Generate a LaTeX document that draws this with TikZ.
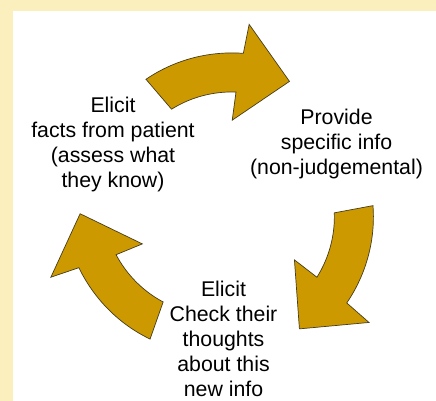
\documentclass[tikz,border=0pt]{standalone}
\usepackage{fontspec}
\setmainfont{Liberation Sans}
\usepackage{tikz}
\definecolor{bandyellow}{RGB}{252,239,190}
\definecolor{arrowgold}{RGB}{204,153,0}
\definecolor{arrowedge}{RGB}{70,60,30}
\tikzset{
  cyclearrow/.style={fill=arrowgold,draw=arrowedge,line width=0.7pt,line join=miter},
  steptext/.style={align=center,inner sep=0pt,anchor=base,font=\fontsize{21.3}{25}\selectfont}
}

\begin{document}
\begin{tikzpicture}[x=1pt,y=1pt]
	\useasboundingbox (0,0) rectangle (436,401);
	\fill[bandyellow] (0,0) rectangle (436,401);
	\fill[white] (13,0) rectangle (436,390);
	% three curved arrows round the cycle
	\foreach \rot in {0,-120,-240} {
		\begin{scope}[shift={(223,193)},rotate=\rot]
			\filldraw[cyclearrow] plot[domain=120.9:82.5,samples=30] (\x:{150+(120.9-\x)*0.156})
				-- (81.9:185.5) -- (62.3:143) -- (84:88.3)
				-- plot[domain=83.6:117.5,samples=30] (\x:{111.4+(117.5-\x)*0.156}) -- cycle;
		\end{scope}
	}
	% base anchor sits on the last line
	\node[steptext] (facts) at (113,213.5) {Elicit\\facts from patient\\(assess what\\they know)};
	\node[steptext] (provide) at (336.5,226) {Provide\\specific info\\(non-judgemental)};
	\node[steptext] (check) at (223.5,4) {Elicit\\Check their\\thoughts\\about this\\new info};
\end{tikzpicture}
\end{document}
